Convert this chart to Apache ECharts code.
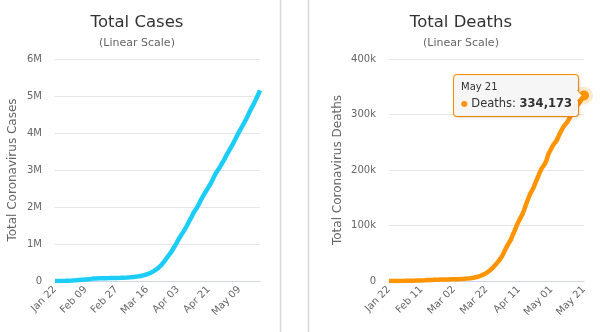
<!DOCTYPE html>
<html>
<head>
<meta charset="utf-8">
<script src="https://cdn.jsdelivr.net/npm/echarts@6/dist/echarts.min.js"></script>
<style>
  html, body { margin: 0; padding: 0; background: #fff; }
  #chart { width: 600px; height: 332px; }
</style>
</head>
<body>
<div id="chart"></div>
<script>
// Daily dates, Jan 22 through May 21
const dates = [
  'Jan 22','Jan 23','Jan 24','Jan 25','Jan 26','Jan 27','Jan 28','Jan 29','Jan 30','Jan 31',
  'Feb 01','Feb 02','Feb 03','Feb 04','Feb 05','Feb 06','Feb 07','Feb 08','Feb 09','Feb 10',
  'Feb 11','Feb 12','Feb 13','Feb 14','Feb 15','Feb 16','Feb 17','Feb 18','Feb 19','Feb 20',
  'Feb 21','Feb 22','Feb 23','Feb 24','Feb 25','Feb 26','Feb 27','Feb 28','Feb 29',
  'Mar 01','Mar 02','Mar 03','Mar 04','Mar 05','Mar 06','Mar 07','Mar 08','Mar 09','Mar 10',
  'Mar 11','Mar 12','Mar 13','Mar 14','Mar 15','Mar 16','Mar 17','Mar 18','Mar 19','Mar 20',
  'Mar 21','Mar 22','Mar 23','Mar 24','Mar 25','Mar 26','Mar 27','Mar 28','Mar 29','Mar 30','Mar 31',
  'Apr 01','Apr 02','Apr 03','Apr 04','Apr 05','Apr 06','Apr 07','Apr 08','Apr 09','Apr 10',
  'Apr 11','Apr 12','Apr 13','Apr 14','Apr 15','Apr 16','Apr 17','Apr 18','Apr 19','Apr 20',
  'Apr 21','Apr 22','Apr 23','Apr 24','Apr 25','Apr 26','Apr 27','Apr 28','Apr 29','Apr 30',
  'May 01','May 02','May 03','May 04','May 05','May 06','May 07','May 08','May 09','May 10',
  'May 11','May 12','May 13','May 14','May 15','May 16','May 17','May 18','May 19','May 20','May 21'
];

// Cumulative confirmed cases
const totalCases = [
  580, 845, 1317, 2015, 2800, 4581, 6058, 7813, 9823, 11950,
  14553, 17391, 20630, 24545, 28266, 31439, 34876, 37552, 40553, 43099,
  45134, 59287, 64438, 67100, 69197, 71329, 73332, 75184, 75700, 76677,
  77673, 78651, 79205, 80087, 80828, 81820, 83112, 84615, 86604,
  88585, 90443, 93016, 95314, 98425, 102050, 106099, 109991, 114381, 118948,
  126214, 134576, 145483, 156653, 169511, 182490, 198238, 218822, 246417, 275875,
  305036, 337459, 378830, 418045, 467653, 529591, 593291, 660693, 720140, 782389, 857487,
  932605, 1013466, 1095917, 1176060, 1249754, 1321481, 1396476, 1480202, 1565278, 1657526,
  1735650, 1835137, 1905935, 1975581, 2055506, 2151872, 2239723, 2317339, 2400843, 2471136,
  2548515, 2623231, 2708885, 2811193, 2897645, 2972363, 3041764, 3117743, 3195929, 3275978,
  3367368, 3452004, 3530841, 3609127, 3689815, 3784981, 3873000, 3966000, 4052000, 4134000,
  4211000, 4296000, 4384000, 4481000, 4580000, 4674000, 4754000, 4848000, 4944000, 5048000, 5153000
];

// Cumulative deaths
const totalDeaths = [
  17, 25, 41, 56, 80, 106, 132, 170, 213, 259,
  304, 362, 426, 492, 565, 638, 724, 813, 910, 1018,
  1115, 1261, 1383, 1526, 1669, 1775, 1873, 2009, 2126, 2247,
  2360, 2460, 2618, 2699, 2763, 2800, 2858, 2923, 2977,
  3050, 3117, 3202, 3285, 3387, 3494, 3599, 3827, 4025, 4296,
  4628, 4981, 5428, 5833, 6520, 7162, 7979, 8958, 10030, 11371,
  13072, 14702, 16582, 18924, 21329, 24158, 27522, 30891, 34069, 37796, 42317,
  47213, 53201, 59189, 64731, 69488, 74608, 82023, 88344, 95560, 102557,
  108740, 114374, 119792, 126825, 135113, 143346, 150852, 157720, 162950, 168573,
  176142, 183203, 190039, 196933, 203124, 207320, 211506, 217941, 228307, 233800,
  239359, 244706, 248271, 252470, 258332, 265084, 270720, 276201, 280341, 283860,
  287330, 293074, 298480, 303725, 308866, 313276, 316520, 320131, 324553, 329453, 334173
];

const casesTicks = { max: 6000000, interval: 1000000 };
const deathsTicks = { max: 400000, interval: 100000 };

const FONT = '"DejaVu Sans", sans-serif';
const CASES_COLOR = '#1ccdf7';
const DEATHS_COLOR = '#ff9400';

const chart = echarts.init(document.getElementById('chart'), null, { renderer: 'canvas' });

function fmtThousands(v) {
  return String(v).replace(/\B(?=(\d{3})+(?!\d))/g, ',');
}

function xAxisFor(gridIndex, step) {
  return {
    type: 'category',
    gridIndex: gridIndex,
    data: dates,
    boundaryGap: false,
    axisLine: { show: true, lineStyle: { color: '#ccd6eb', width: 1 } },
    axisTick: { show: false },
    splitLine: { show: false },
    axisLabel: {
      interval: step - 1,
      rotate: 45,
      color: '#666',
      fontFamily: FONT,
      fontSize: 10,
      margin: 7
    }
  };
}

function yAxisFor(gridIndex, ticks, name, nameGap, fmt) {
  return {
    type: 'value',
    gridIndex: gridIndex,
    min: 0,
    max: ticks.max,
    interval: ticks.interval,
    name: name,
    nameLocation: 'middle',
    nameGap: nameGap,
    nameTextStyle: { color: '#666', fontFamily: FONT, fontSize: 12 },
    axisLine: { show: false },
    axisTick: { show: false },
    splitLine: { lineStyle: { color: '#e6e6e6', width: 1 } },
    axisLabel: { color: '#666', fontFamily: FONT, fontSize: 10, margin: 13, formatter: fmt }
  };
}

const lastIdx = totalDeaths.length - 1;
const deathsData = totalDeaths.map(function (v, i) {
  if (i !== lastIdx) return v;
  return {
    value: v,
    symbol: 'circle',
    symbolSize: 10,
    itemStyle: { color: DEATHS_COLOR },
    label: {
      show: true,
      position: 'left',
      distance: 1,
      backgroundColor: 'rgba(247,247,247,0.95)',
      borderColor: DEATHS_COLOR,
      borderWidth: 1,
      borderRadius: 3,
      padding: [5, 6, 4, 7],
      shadowColor: 'rgba(0,0,0,0.12)',
      shadowBlur: 3,
      shadowOffsetX: 1,
      shadowOffsetY: 1,
      formatter: function (p) {
        return '{d|' + dates[p.dataIndex] + '}\n{dot|●} {k|Deaths: }{v|' + fmtThousands(p.value) + '}';
      },
      rich: {
        d: { fontFamily: FONT, fontSize: 10, color: '#333', lineHeight: 15, align: 'left' },
        dot: { fontFamily: FONT, fontSize: 8, color: DEATHS_COLOR, lineHeight: 17, align: 'left' },
        k: { fontFamily: FONT, fontSize: 11.5, color: '#333', lineHeight: 17, align: 'left' },
        v: { fontFamily: FONT, fontSize: 11.5, color: '#333', fontWeight: 'bold', lineHeight: 17, align: 'left' }
      }
    }
  };
});

const haloData = totalDeaths.map(function (v, i) { return i === lastIdx ? v : '-'; });

chart.setOption({
  animation: false,
  title: [
    {
      text: 'Total Cases',
      subtext: '(Linear Scale)',
      left: 132, top: 9, textAlign: 'center',
      itemGap: 7,
      textStyle: { fontFamily: FONT, fontSize: 16.5, fontWeight: 'normal', color: '#333' },
      subtextStyle: { fontFamily: FONT, fontSize: 11, color: '#666' }
    },
    {
      text: 'Total Deaths',
      subtext: '(Linear Scale)',
      left: 456, top: 9, textAlign: 'center',
      itemGap: 7,
      textStyle: { fontFamily: FONT, fontSize: 16.5, fontWeight: 'normal', color: '#333' },
      subtextStyle: { fontFamily: FONT, fontSize: 11, color: '#666' }
    }
  ],
  grid: [
    { left: 55, right: 340, top: 59, bottom: 51 },
    { left: 389, right: 16, top: 59, bottom: 51 }
  ],
  xAxis: [xAxisFor(0, 18), xAxisFor(1, 20)],
  yAxis: [
    yAxisFor(0, casesTicks, 'Total Coronavirus Cases', 36, function (v) { return v === 0 ? '0' : (v / 1e6) + 'M'; }),
    yAxisFor(1, deathsTicks, 'Total Coronavirus Deaths', 45, function (v) { return v === 0 ? '0' : (v / 1e3) + 'k'; })
  ],
  series: [
    {
      name: 'Cases',
      type: 'line',
      xAxisIndex: 0, yAxisIndex: 0,
      data: totalCases,
      showSymbol: false,
      symbol: 'none',
      lineStyle: { color: CASES_COLOR, width: 4.5 },
      z: 3
    },
    {
      name: 'Deaths halo',
      type: 'scatter',
      xAxisIndex: 1, yAxisIndex: 1,
      data: haloData,
      symbolSize: 18,
      itemStyle: { color: 'rgba(255,148,0,0.25)' },
      silent: true,
      z: 2
    },
    {
      name: 'Deaths',
      type: 'line',
      xAxisIndex: 1, yAxisIndex: 1,
      data: deathsData,
      showSymbol: true,
      symbol: 'none',
      lineStyle: { color: DEATHS_COLOR, width: 4.5 },
      z: 3
    }
  ],
  graphic: [
    { type: 'line', shape: { x1: 280.5, y1: 0, x2: 280.5, y2: 332 }, style: { stroke: '#d8d8d8', lineWidth: 1.5 }, silent: true },
    { type: 'line', shape: { x1: 308.5, y1: 0, x2: 308.5, y2: 332 }, style: { stroke: '#d8d8d8', lineWidth: 1.5 }, silent: true }
  ]
});

// Callout pointer on the label box, aimed at the last deaths point
const pt = chart.convertToPixel({ xAxisIndex: 1, yAxisIndex: 1 }, [lastIdx, totalDeaths[lastIdx]]);
const baseX = pt[0] - 6.5;
chart.setOption({
  graphic: [
    {}, {},
    {
      type: 'polygon',
      shape: { points: [[baseX, pt[1] - 5], [pt[0] - 2, pt[1]], [baseX, pt[1] + 5]] },
      style: { fill: 'rgb(247,247,247)', stroke: DEATHS_COLOR, lineWidth: 1 },
      z: 100, silent: true
    },
    {
      type: 'line',
      shape: { x1: baseX - 0.5, y1: pt[1] - 4.5, x2: baseX - 0.5, y2: pt[1] + 4.5 },
      style: { stroke: 'rgb(247,247,247)', lineWidth: 2 },
      z: 101, silent: true
    }
  ]
});
</script>
</body>
</html>
